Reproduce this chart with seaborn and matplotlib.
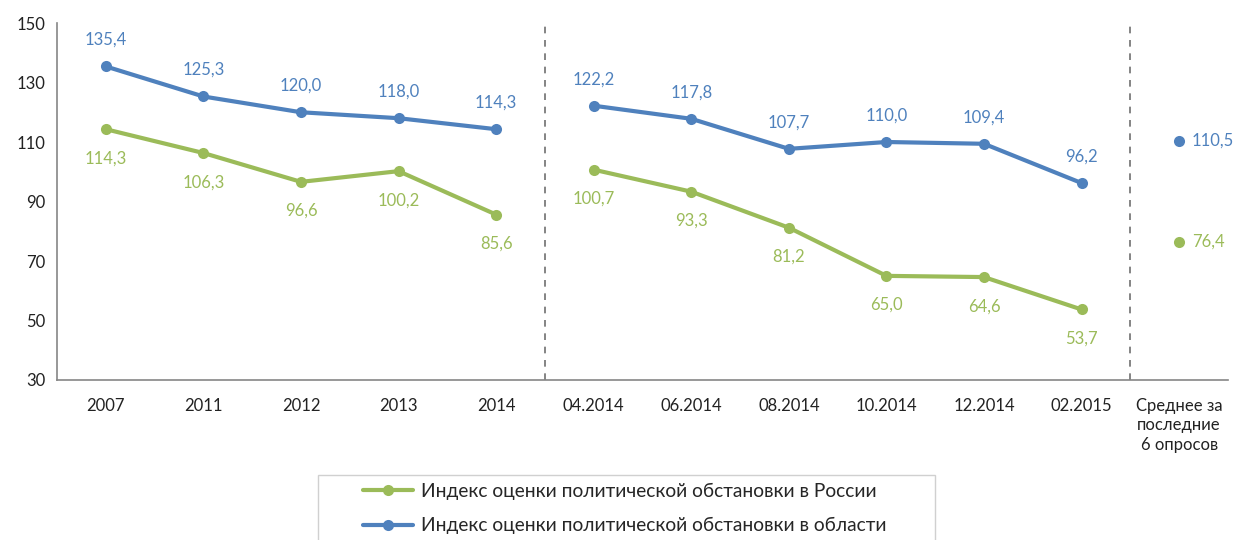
import numpy as np
import pandas as pd
import seaborn as sns
import matplotlib.pyplot as plt
from matplotlib.lines import Line2D
from matplotlib.patches import Rectangle

# data
categories = ["2007", "2011", "2012", "2013", "2014",
              "04.2014", "06.2014", "08.2014", "10.2014", "12.2014", "02.2015",
              "Среднее за\nпоследние\n6 опросов"]
russia = [114.3, 106.3, 96.6, 100.2, 85.6,
          100.7, 93.3, 81.2, 65.0, 64.6, 53.7, 76.4]
region = [135.4, 125.3, 120.0, 118.0, 114.3,
          122.2, 117.8, 107.7, 110.0, 109.4, 96.2, 110.5]
segments = [(0, 5), (5, 11), (11, 12)]

green = "#9BBB59"
blue = "#4F81BD"
grey = "#868686"

sns.set_style("white")
plt.rcParams['font.family'] = ['Lato', 'DejaVu Sans']

df = pd.DataFrame({"x": np.arange(len(categories)), "russia": russia, "region": region})

fig = plt.figure(figsize=(12.34, 5.40), dpi=100)
ax = fig.add_axes([0.0462, 0.2963, 0.9489, 0.6611])

for a, b in segments:
    part = df.iloc[a:b]
    sns.lineplot(data=part, x="x", y="russia", ax=ax, color=green, lw=3,
                 marker="o", markersize=8, markeredgewidth=0)
    sns.lineplot(data=part, x="x", y="region", ax=ax, color=blue, lw=3,
                 marker="o", markersize=8, markeredgewidth=0)

# data labels
fmt = lambda v: f"{v:.1f}".replace(".", ",")
last = len(categories) - 1
for i in range(len(categories)):
    if i == last:
        ax.annotate(fmt(region[i]), (i, region[i]), xytext=(9, 0), textcoords="offset points",
                    ha="left", va="center", color=blue, fontsize=12)
        ax.annotate(fmt(russia[i]), (i, russia[i]), xytext=(9, 0), textcoords="offset points",
                    ha="left", va="center", color=green, fontsize=12)
    else:
        ax.annotate(fmt(region[i]), (i, region[i]), xytext=(0, 19), textcoords="offset points",
                    ha="center", va="center", color=blue, fontsize=12)
        ax.annotate(fmt(russia[i]), (i, russia[i]), xytext=(0, -21), textcoords="offset points",
                    ha="center", va="center", color=green, fontsize=12)

# separators
for xs in [4.5, 10.5]:
    ax.axvline(xs, color="#707070", ls=(0, (4, 4)), lw=1.2)

ax.set_xlim(-0.5, len(categories) - 0.5)
ax.set_ylim(30, 150)
ax.set_yticks(range(30, 151, 20))
ax.set_xticks(range(len(categories)))
ax.set_xticklabels(categories, fontsize=12, color="#222222", linespacing=1.25)
ax.set_xticks(np.arange(-0.5, len(categories), 1), minor=True)
ax.tick_params(axis="x", which="major", length=0, pad=13)
ax.tick_params(axis="x", which="minor", length=6, color=grey, width=1.2, direction="out")
ax.tick_params(axis="y", length=5, color=grey, width=1.2, direction="out", labelsize=12,
               labelcolor="#222222")
ax.set_xlabel("")
ax.set_ylabel("")
for s in ["top", "right"]:
    ax.spines[s].set_visible(False)
for s in ["left", "bottom"]:
    ax.spines[s].set_color(grey)
    ax.spines[s].set_linewidth(1.2)

# legend
fig.patches.append(Rectangle((318 / 1234, -0.02), 617 / 1234, 0.14, transform=fig.transFigure,
                             fill=False, edgecolor="#d0d0d0", lw=1))
handles = [Line2D([], [], color=green, lw=3, marker="o", markersize=8, markeredgewidth=0),
           Line2D([], [], color=blue, lw=3, marker="o", markersize=8, markeredgewidth=0)]
leg = fig.legend(handles, ["Индекс оценки политической обстановки в России",
                           "Индекс оценки политической обстановки в области"],
                 loc="upper left", bbox_to_anchor=(363 / 1234, 1 - 483 / 540), fontsize=13.8,
                 frameon=False, handlelength=2.6, labelspacing=0.9, handletextpad=0.45,
                 borderpad=0, borderaxespad=0)

fig.savefig("out.png", dpi=100)
